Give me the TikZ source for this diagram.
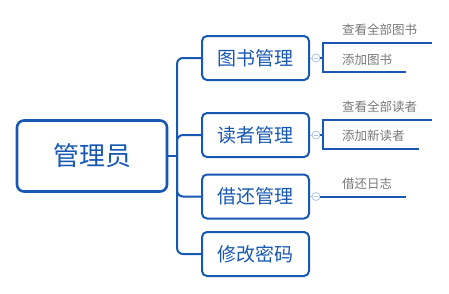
\documentclass[tikz,border=0pt]{standalone}
\usepackage{fontspec}
\setmainfont{Noto Sans CJK SC}
\usepackage{xcolor}
\usetikzlibrary{positioning}
\definecolor{mapblue}{RGB}{22,88,178}
\definecolor{leafgray}{RGB}{120,120,120}
\definecolor{foldblue}{RGB}{175,195,230}

\begin{document}
\begin{tikzpicture}[
    x=1pt, y=-1pt,
    root/.style={draw=mapblue, line width=2.6pt, rounded corners=7pt, minimum width=150pt, minimum height=71pt,
        text=mapblue, font=\fontsize{26}{30}\selectfont},
    topic/.style={draw=mapblue, line width=2pt, rounded corners=5pt, minimum width=107pt, minimum height=44pt,
        text=mapblue, font=\fontsize{19}{22}\selectfont},
    leaf/.style={text=leafgray, inner sep=0pt, anchor=west, font=\fontsize{12.5}{15}\selectfont},
    fold/.style={circle, draw=foldblue, fill=white, line width=0.8pt, minimum size=8pt, inner sep=0pt,
        path picture={\draw[foldblue, line width=0.8pt] (path picture bounding box.west) ++(2pt,0) -- ++(4pt,0);}},
    trunk/.style={draw=mapblue, line width=2pt, rounded corners=6pt},
    branch/.style={draw=mapblue, line width=2pt},
    stub/.style={draw=foldblue, line width=0.8pt}
]
    \useasboundingbox (0,0) rectangle (449,293);

    % main node and first level
    \node[root] (admin) at (92,156) {管理员};
    \node[topic] (books) at (255.5,58) {图书管理};
    \node[topic] (readers) at (255.5,135) {读者管理};
    \node[topic] (loans) at (255.5,196.5) {借还管理};
    \node[topic] (passwd) at (255.5,254) {修改密码};

    \coordinate (hub) at (177,156);
    \draw[branch] (admin.east) -- (hub);
    \draw[trunk] (hub) |- (books.west);
    \draw[trunk] (hub) |- (readers.west);
    \draw[trunk] (hub) |- (loans.west);
    \draw[trunk] (hub) |- (passwd.west);

    % fold buttons
    \node[fold] (booksfold) at (316,58) {};
    \node[fold] (readersfold) at (316,135) {};
    \node[fold] (loansfold) at (316,196.5) {};
    \draw[stub] (books.east) -- (booksfold);
    \draw[stub] (readers.east) -- (readersfold);
    \draw[stub] (loans.east) -- (loansfold);

    % second level
    \node[leaf] (booklist) at (342,30) {查看全部图书};
    \node[leaf] (bookadd) at (342,59.5) {添加图书};
    \node[leaf] (readerlist) at (342,107) {查看全部读者};
    \node[leaf] (readeradd) at (342,136) {添加新读者};
    \node[leaf] (loanlog) at (342,183.5) {借还日志};

    \coordinate (booksfork) at (323,58);
    \coordinate (readersfork) at (323,135);
    \coordinate (booklistend) at (432,43);
    \coordinate (bookaddend) at (406,72);
    \coordinate (readerlistend) at (432,120);
    \coordinate (readeraddend) at (419,149);
    \coordinate (loanlogend) at (406,196.5);

    \draw[branch] (booksfold) -- (booksfork);
    \draw[branch] (booksfork) |- (booklistend);
    \draw[branch] (booksfork) |- (bookaddend);
    \draw[branch] (readersfold) -- (readersfork);
    \draw[branch] (readersfork) |- (readerlistend);
    \draw[branch] (readersfork) |- (readeraddend);
    \draw[branch] (loansfold) -- (loanlogend);
\end{tikzpicture}
\end{document}
